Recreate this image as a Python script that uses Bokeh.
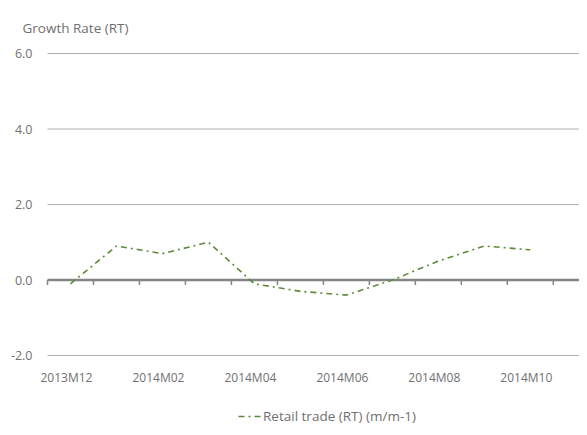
import math
from bokeh.plotting import figure
from bokeh.models import (FixedTicker, Legend, LegendItem, Range1d,
                          NumeralTickFormatter)
from bokeh.core.properties import value
from bokeh.embed import file_html
from bokeh.resources import INLINE

# ---- data ----
months = ["2013M12", "2014M01", "2014M02", "2014M03", "2014M04", "2014M05",
          "2014M06", "2014M07", "2014M08", "2014M09", "2014M10"]
growth = [-0.1, 0.9, 0.7, 1.0, -0.1, -0.3, -0.4, 0.0, 0.5, 0.9, 0.8]
y_ticks = [-2.0, 0.0, 2.0, 4.0, 6.0]
series_label = "Retail trade (RT) (m/m-1)"
title_text = "Growth Rate (RT)"

FONT = "Open Sans"
TXT = "#707070"
GREEN = "#5b8c3c"
AXIS = "#858585"
GRID = "#b0b0b0"

xs = list(range(len(growth)))
label_idx = xs[::2]
label_text = [months[i] for i in label_idx]
boundaries = [i - 0.5 for i in range(len(growth) + 1)]

X_END = 11.07
p = figure(width=579, height=427, output_backend="svg", toolbar_location=None,
           x_range=Range1d(-0.739, X_END), y_range=Range1d(-3.907, 6.08),
           x_axis_type=None, min_border_left=36, min_border_right=0,
           min_border_top=50, min_border_bottom=0)
p.outline_line_color = None
p.ygrid.grid_line_color = None

# title
p.title.text = title_text
p.title.text_font = FONT
p.title.text_font_size = "13.5px"
p.title.text_font_style = "normal"
p.title.text_color = TXT
p.title.align = "left"
p.title.offset = -14
p.title.standoff = 28

# y axis
ya = p.yaxis[0]
ya.ticker = FixedTicker(ticks=y_ticks)
ya.formatter = NumeralTickFormatter(format="0.0")
ya.axis_line_color = None
ya.major_tick_line_color = None
ya.major_tick_out = 0
ya.major_tick_in = 0
ya.minor_tick_line_color = None
ya.major_label_text_font = FONT
ya.major_label_text_font_size = "12.5px"
ya.major_label_text_color = TXT
ya.major_label_standoff = 4

# horizontal gridlines starting at the first category boundary
grid_y = [t for t in y_ticks if t != 0.0]
p.segment(x0=[boundaries[0]] * len(grid_y), y0=grid_y,
          x1=[X_END] * len(grid_y), y1=grid_y, line_color=GRID, line_width=1)

# zero axis line with category boundary ticks
p.segment(x0=[boundaries[0]], y0=[0.0], x1=[X_END], y1=[0.0],
          line_color=AXIS, line_width=2.5)
p.ray(x=boundaries, y=[0] * len(boundaries), length=5, length_units="screen",
      angle=-math.pi / 2, line_color=AXIS, line_width=1.5)

# x category labels below the -2.0 line
p.text(x=label_idx, y=[y_ticks[0]] * len(label_idx), text=label_text,
       x_offset=-4, y_offset=22, text_align="center", text_baseline="middle",
       text_font=value(FONT), text_font_size="12px", text_color=TXT)

# line
r = p.line(xs, growth, line_color=GREEN, line_width=1.6, line_dash="6 4 2 4")

legend = Legend(items=[LegendItem(label=series_label, renderers=[r])],
                orientation="horizontal", location=(202, 1),
                border_line_color=None, background_fill_alpha=0,
                label_text_font=FONT, label_text_font_size="13.5px",
                label_text_color=TXT, glyph_width=23, label_standoff=2,
                padding=0, spacing=0, margin=0)
p.add_layout(legend)

open("out.html", "w").write(file_html(p, INLINE))
